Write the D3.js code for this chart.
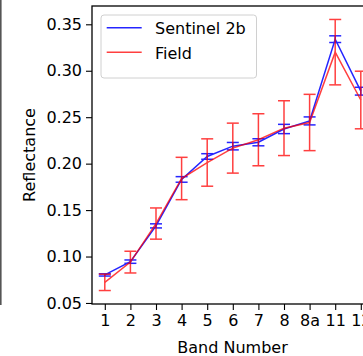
<!DOCTYPE html>
<html>
<head>
<meta charset="utf-8">
<script src="https://cdn.jsdelivr.net/npm/d3@7"></script>
<style>
  body { margin: 0; background: #fff; }
  svg { display: block; font-family: "DejaVu Sans", sans-serif; }
</style>
</head>
<body>
<svg id="main_svg" width="363" height="356"></svg>
<script>
// band labels along the x axis
let bands = ["1", "2", "3", "4", "5", "6", "7", "8", "8a", "11", "12"];
// mean reflectance
let sentinel = [0.0802, 0.0945, 0.133, 0.183, 0.2077, 0.2188, 0.223, 0.2373, 0.246, 0.334, 0.278];
let sentinelErr = [0.0012, 0.0018, 0.0022, 0.003, 0.003, 0.004, 0.0038, 0.005, 0.0043, 0.0036, 0.0042];
let field = [0.0722, 0.094, 0.1355, 0.184, 0.2012, 0.2167, 0.2257, 0.2382, 0.2443, 0.32, 0.2685];
let fieldErr = [0.0088, 0.0117, 0.0168, 0.0228, 0.0255, 0.0269, 0.028, 0.0295, 0.0303, 0.0352, 0.031];
let yTicks = [0.05, 0.10, 0.15, 0.20, 0.25, 0.30, 0.35];

let svg = d3.select("#main_svg");
let padLeft = 92, padTop = 6, padRight = 373.6, padBottom = 304;

let x = d3.scaleLinear().domain([-0.5, bands.length - 0.5]).range([padLeft, padRight]);
let y = d3.scaleLinear().domain([0.0489, 0.3697]).range([padBottom, padTop]);

// edge of the neighbouring panel
svg.append("line")
   .attr("x1", 0.8).attr("x2", 0.8).attr("y1", 0).attr("y2", 305)
   .style("stroke", "#555").style("stroke-width", 1.6);

let xAxis = d3.axisBottom(x)
   .tickValues(d3.range(bands.length))
   .tickFormat(i => bands[i])
   .tickSizeOuter(0).tickSize(6).tickPadding(5);
let yAxis = d3.axisLeft(y)
   .tickValues(yTicks)
   .tickFormat(d3.format(".2f"))
   .tickSizeOuter(0).tickSize(6).tickPadding(4);

let gx = svg.append("g").attr("transform", "translate(0," + padBottom + ")").call(xAxis);
let gy = svg.append("g").attr("transform", "translate(" + padLeft + ",0)").call(yAxis);
[gx, gy].forEach(g => {
    g.select(".domain").remove();
    g.selectAll("line").style("stroke", "#000").style("stroke-width", 1.1);
    g.selectAll("text").style("font-size", "16px").style("fill", "#000")
     .style("font-family", "DejaVu Sans, sans-serif");
});

function drawSeries(values, errs, color, opacity) {
    let g = svg.append("g").style("opacity", opacity);
    let line = d3.line().x((d, i) => x(i)).y(d => y(d));
    g.append("path").datum(values)
     .attr("d", line)
     .style("fill", "none").style("stroke", color).style("stroke-width", 1.5);
    values.forEach((v, i) => {
        let cx = x(i);
        let y1 = y(v + errs[i]), y2 = y(v - errs[i]);
        g.append("line").attr("x1", cx).attr("x2", cx).attr("y1", y1).attr("y2", y2)
         .style("stroke", color).style("stroke-width", 1.5);
        [y1, y2].forEach(yy => {
            g.append("line").attr("x1", cx - 6).attr("x2", cx + 6).attr("y1", yy).attr("y2", yy)
             .style("stroke", color).style("stroke-width", 1.5);
        });
    });
}

drawSeries(sentinel, sentinelErr, "#0000ff", 0.85);
drawSeries(field, fieldErr, "#ff0000", 0.75);

// spines
svg.append("rect")
   .attr("x", padLeft).attr("y", padTop).attr("width", padRight - padLeft).attr("height", padBottom - padTop)
   .style("fill", "none").style("stroke", "#000").style("stroke-width", 1.3);

// legend
let lg = svg.append("g");
lg.append("rect")
  .attr("x", 101).attr("y", 15).attr("width", 155.5).attr("height", 63).attr("rx", 3)
  .style("fill", "#fff").style("fill-opacity", 0.8)
  .style("stroke", "#d0d0d0").style("stroke-width", 1);
let items = [["Sentinel 2b", "#0000ff", 0.85], ["Field", "#ff0000", 0.75]];
items.forEach((it, i) => {
    let yy = 27.7 + i * 24.6;
    lg.append("line").attr("x1", 106.7).attr("x2", 141.7).attr("y1", yy).attr("y2", yy)
      .style("stroke", it[1]).style("stroke-width", 1.5).style("opacity", it[2]);
    lg.append("text").attr("x", 155).attr("y", yy + 6.5)
      .style("font-size", "16px").text(it[0]);
});

svg.append("text")
   .attr("x", (padLeft + 374) / 2 - 0.5).attr("y", 352.5)
   .attr("text-anchor", "middle").style("font-size", "16px")
   .text("Band Number");
svg.append("text")
   .attr("transform", "translate(34.5," + ((padTop + padBottom) / 2) + ") rotate(-90)")
   .attr("text-anchor", "middle").style("font-size", "16px")
   .text("Reflectance");
</script>
</body>
</html>
